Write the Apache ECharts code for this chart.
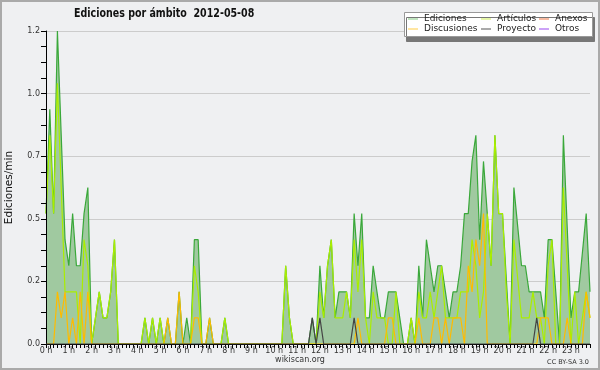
<!DOCTYPE html>
<html><head><meta charset="utf-8">
<script src="https://cdn.jsdelivr.net/npm/echarts@6/dist/echarts.min.js"></script>
<style>html,body{margin:0;padding:0;background:#eff0f2}#c{width:600px;height:370px}</style>
</head><body><div id="c"></div>
<script>
// 10-minute bins, values in edits/min
const ediciones = [
 0.5,0.9,0.5,1.2,0.8,0.4,0.3,0.5,0.3,0.3,0.5,0.6,
 0,0.1,0.2,0.1,0.1,0.2,0.4,0,0,0,0,0,
 0,0,0.1,0,0.1,0,0.1,0,0.1,0,0,0.2,
 0,0.1,0,0.4,0.4,0,0,0.1,0,0,0,0.1,
 0,0,0,0,0,0,0,0,0,0,0,0,
 0,0,0,0.3,0.1,0,0,0,0,0,0.1,0,
 0.3,0.1,0.3,0.4,0.1,0.2,0.2,0.2,0.1,0.5,0.3,0.5,
 0.1,0.1,0.3,0.2,0.1,0.1,0.2,0.2,0.2,0.1,0,0,
 0.1,0,0.3,0.1,0.4,0.3,0.2,0.3,0.3,0.2,0.1,0.2,
 0.2,0.3,0.5,0.5,0.7,0.8,0.4,0.7,0.5,0.3,0.8,0.5,
 0.5,0.25,0,0.6,0.45,0.3,0.3,0.2,0.2,0.2,0.2,0.1,
 0.4,0.4,0.2,0,0.8,0.45,0.1,0.2,0.2,0.35,0.5,0.2
];
const articulos = [
 0.5,0.8,0.5,1.0,0.6,0.2,0.2,0.2,0.2,0,0.4,0.3,
 0,0.1,0.2,0.1,0.1,0.2,0.4,0,0,0,0,0,
 0,0,0.1,0,0.1,0,0.1,0,0,0,0,0,
 0,0,0,0.3,0.2,0,0,0,0,0,0,0.1,
 0,0,0,0,0,0,0,0,0,0,0,0,
 0,0,0,0.3,0.1,0,0,0,0,0,0,0,
 0.2,0.1,0.3,0.4,0.1,0.1,0.1,0.2,0.1,0.4,0.2,0.4,
 0.1,0,0.2,0.1,0.1,0.1,0,0,0.2,0,0,0,
 0.1,0,0.2,0.1,0.1,0.2,0.1,0.2,0.3,0.1,0.1,0.1,
 0.1,0.2,0.2,0.2,0.4,0.3,0.1,0.2,0.5,0.3,0.8,0.5,
 0.5,0.2,0,0.4,0.25,0.1,0.1,0.1,0.2,0.1,0.1,0,
 0.3,0.4,0,0,0.6,0.3,0,0.2,0,0.1,0.2,0.1
];
const discusiones = [
 0,0,0,0.2,0.1,0.2,0,0.1,0,0.2,0,0.2,
 0,0,0,0,0,0,0,0,0,0,0,0,
 0,0,0,0,0,0,0,0,0.1,0,0,0.2,
 0,0,0,0.1,0.1,0,0,0.1,0,0,0,0,
 0,0,0,0,0,0,0,0,0,0,0,0,
 0,0,0,0,0,0,0,0,0,0,0,0,
 0,0,0,0,0,0,0,0,0,0,0.1,0,
 0,0,0,0,0,0,0.1,0.1,0,0,0,0,
 0,0,0.1,0,0,0,0.1,0.1,0,0.1,0,0.1,
 0.1,0.1,0,0.3,0.2,0.4,0.3,0.5,0,0,0,0,
 0,0,0,0,0,0,0,0,0,0,0.1,0.1,
 0.1,0,0,0,0,0.1,0,0,0,0,0.2,0.1
];
const proyecto = [
 0,0,0,0,0,0,0,0,0,0,0,0,
 0,0,0,0,0,0,0,0,0,0,0,0,
 0,0,0,0,0,0,0,0,0,0,0,0,
 0,0,0,0,0,0,0,0,0,0,0,0,
 0,0,0,0,0,0,0,0,0,0,0,0,
 0,0,0,0,0,0,0,0,0,0,0.1,0,
 0.1,0,0,0,0,0,0,0,0,0.1,0,0,
 0,0,0,0,0,0,0,0,0,0,0,0,
 0,0,0,0,0,0,0,0,0,0,0,0,
 0,0,0,0,0,0,0,0,0,0,0,0,
 0,0,0,0,0,0,0,0,0,0.1,0,0,
 0,0,0,0,0,0,0,0,0,0,0,0
];
const anexos = new Array(144).fill(0);
const otros = new Array(144).fill(0);
const hours = [0,1,2,3,4,5,6,7,8,9,10,11,12,13,14,15,16,17,18,19,20,21,22,23];
const minutes = ['00','10','20','30','40','50'];
const slots = [];
hours.forEach(h => minutes.forEach(m => slots.push(h + ':' + m)));

const FONT = '"DejaVu Sans", sans-serif';
const chart = echarts.init(document.getElementById('c'), null, {renderer: 'canvas'});
const lineSeries = (name, data, color, z, extra) => Object.assign({
  name, type: 'line', data, showSymbol: false, symbol: 'none', z,
  lineStyle: {color, width: 1.2}, itemStyle: {color}, emphasis: {disabled: true}
}, extra || {});
const legendBase = {
  orient: 'vertical', top: 14, itemGap: 0, itemWidth: 10, itemHeight: 1, icon: 'rect',
  selectedMode: false, z: 6, padding: 0,
  textStyle: {fontFamily: FONT, fontSize: 9, lineHeight: 10, color: '#222', padding: [0,0,0,1]}
};
chart.setOption({
  backgroundColor: '#eff0f2',
  animation: false,
  legend: [
    Object.assign({}, legendBase, {left: 408, data: [
      {name: 'Ediciones', itemStyle: {color: '#80c880'}},
      {name: 'Discusiones', itemStyle: {color: '#ffcc44'}}]}),
    Object.assign({}, legendBase, {left: 481, data: [
      {name: 'Artículos', itemStyle: {color: '#ccee55'}},
      {name: 'Proyecto', itemStyle: {color: '#555555'}}]}),
    Object.assign({}, legendBase, {left: 539, data: [
      {name: 'Anexos', itemStyle: {color: '#ee7744'}},
      {name: 'Otros', itemStyle: {color: '#9944ee'}}]})
  ],
  grid: {left: 46, top: 31, width: 544, height: 313, containLabel: false, outerBoundsMode: 'none'},
  xAxis: {
    type: 'category', data: slots, boundaryGap: false, z: 5,
    axisLine: {lineStyle: {color: '#000', width: 1}},
    axisTick: {interval: 0, length: 4, lineStyle: {color: '#000'}},
    axisLabel: {interval: 5, margin: 3, fontFamily: FONT, fontSize: 8, color: '#333',
      formatter: (v, i) => (i / 6) + ' h'},
    splitLine: {show: false}
  },
  yAxis: [
    {type: 'value', min: 0, max: 1.2, interval: 0.24, z: 0,
     axisLine: {show: false}, axisTick: {show: false}, axisLabel: {show: false},
     splitLine: {show: true, lineStyle: {color: '#cccccc', width: 1}}},
    {type: 'value', min: 0, max: 1.2, interval: 0.24, z: 5, position: 'left',
     name: 'Ediciones/min', nameLocation: 'middle', nameGap: 31, nameRotate: 90,
     nameTextStyle: {fontFamily: FONT, fontSize: 10.5, color: '#111'},
     axisLine: {show: true, lineStyle: {color: '#000', width: 1}},
     axisTick: {show: true, length: 5, lineStyle: {color: '#000'}},
     minorTick: {show: true, splitNumber: 4, length: 5, lineStyle: {color: '#000'}},
     axisLabel: {margin: 6, fontFamily: FONT, fontSize: 8, color: '#333',
       formatter: v => v.toFixed(1)},
     splitLine: {show: false}}
  ],
  series: [
    lineSeries('Ediciones', ediciones, '#3aa83a', 2, {areaStyle: {color: '#a0c9a0', opacity: 1}}),
    lineSeries('Artículos', articulos, '#aaee00', 3),
    lineSeries('Discusiones', discusiones, '#ffbb00', 4),
    lineSeries('Proyecto', proyecto, '#444444', 5),
    lineSeries('Anexos', anexos, '#ee7744', 1),
    lineSeries('Otros', otros, '#9944ee', 1)
  ],
  graphic: [
    {type: 'rect', z: 100, silent: true, shape: {x: 1, y: 1, width: 598, height: 368},
     style: {fill: null, stroke: '#aaaaaa', lineWidth: 2}},
    {type: 'rect', z: 3, silent: true, shape: {x: 404.5, y: 12.5, width: 188, height: 24},
     style: {fill: '#ffffff', stroke: '#999999', lineWidth: 1,
       shadowColor: '#777777', shadowOffsetX: 2, shadowOffsetY: 5, shadowBlur: 0}},
    {type: 'text', x: 74, y: 14, scaleX: 0.76, silent: true, z: 10,
     style: {text: 'Ediciones por ámbito  2012-05-08', fontFamily: FONT, fontWeight: 'bold',
       fontSize: 12.5, fill: '#111', verticalAlign: 'middle'}},
    {type: 'text', left: 'center', top: 356, silent: true,
     style: {text: 'wikiscan.org', fontFamily: FONT, fontSize: 8, fill: '#333'}},
    {type: 'text', right: 11, top: 359, silent: true,
     style: {text: 'CC BY-SA 3.0', fontFamily: FONT, fontSize: 6.5, fill: '#333'}}
  ]
});
</script></body></html>
